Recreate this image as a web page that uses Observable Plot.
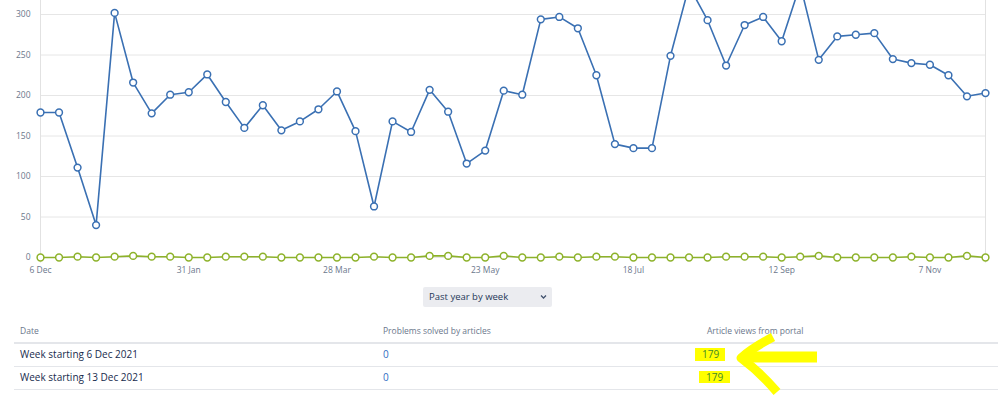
<!DOCTYPE html>
<html>
<head>
<meta charset="utf-8">
<script src="https://cdn.jsdelivr.net/npm/d3@7"></script>
<script src="https://cdn.jsdelivr.net/npm/@observablehq/plot@0.6"></script>
<style>
  html, body { margin: 0; padding: 0; background: #fff; }
  body { font-family: "Open Sans", "Noto Sans", sans-serif; }
  #wrap { position: relative; width: 998px; height: 397px; overflow: hidden; background: #fff; }
  #chart { position: absolute; left: 0; top: 0; }
  #chart svg { overflow: hidden; }
  .abs { position: absolute; white-space: nowrap; }
  .hdr { font-size: 8.5px; color: #6b778c; }
  .cell { font-size: 10px; color: #172b4d; }
  .link { color: #2f6cc4; }
  .line { position: absolute; left: 14px; width: 984px; background: #e4e6ea; }
  #sel { position: absolute; left: 423px; top: 287px; width: 129px; height: 20px; background: #ebecf0; border-radius: 2px; font-size: 9.5px; color: #253858; }
</style>
</head>
<body>
<div id="wrap">
  <div id="chart"></div>
  <div id="sel"><span class="abs" style="left:6px;top:3px;">Past year by week</span>
    <svg class="abs" style="left:117px;top:7px" width="7" height="6"><path d="M1,1.5 L3.5,4 L6,1.5" fill="none" stroke="#42526e" stroke-width="1.3"/></svg>
  </div>
  <div id="table"></div>
  <svg id="anno" class="abs" style="left:0;top:0;pointer-events:none" width="998" height="397"></svg>
</div>
<script>
const dates = ["2021-12-06","2021-12-13","2021-12-20","2021-12-27","2022-01-03","2022-01-10","2022-01-17","2022-01-24","2022-01-31","2022-02-07","2022-02-14","2022-02-21","2022-02-28","2022-03-07","2022-03-14","2022-03-21","2022-03-28","2022-04-04","2022-04-11","2022-04-18","2022-04-25","2022-05-02","2022-05-09","2022-05-16","2022-05-23","2022-05-30","2022-06-06","2022-06-13","2022-06-20","2022-06-27","2022-07-04","2022-07-11","2022-07-18","2022-07-25","2022-08-01","2022-08-08","2022-08-15","2022-08-22","2022-08-29","2022-09-05","2022-09-12","2022-09-19","2022-09-26","2022-10-03","2022-10-10","2022-10-17","2022-10-24","2022-10-31","2022-11-07","2022-11-14","2022-11-21","2022-11-28"];
const articleViews = [179,179,111,40,302,216,178,201,204,226,192,160,188,157,168,183,205,156,63,168,155,207,180,116,132,206,201,294,297,283,225,140,135,135,249,335,293,237,287,297,267,337,244,273,275,277,245,240,238,225,199,203];
const problemsSolved = [0,0,1,0,1,2,1,1,0,0,1,1,1,0,0,0,0,0,1,0,0,2,2,0,0,2,0,0,1,0,1,1,0,0,0,0,0,1,1,1,0,1,2,0,0,0,0,1,0,0,2,0];
const xTicks = ["2021-12-06","2022-01-31","2022-03-28","2022-05-23","2022-07-18","2022-09-12","2022-11-07"];
const yTicks = [0,50,100,150,200,250,300];
const tableHeaders = ["Date","Problems solved by articles","Article views from portal"];

const parse = d3.utcParse("%Y-%m-%d");
const views = dates.map((d,i) => ({date: parse(d), value: articleViews[i]}));
const solved = dates.map((d,i) => ({date: parse(d), value: problemsSolved[i]}));
const blue = "#3a70b3", green = "#8db22a";
const fmtTick = d3.utcFormat("%-d %b");

const chart = Plot.plot({
  width: 998, height: 280,
  marginLeft: 40, marginRight: 13, marginTop: 0, marginBottom: 23,
  style: {fontFamily: "'Open Sans', 'Noto Sans', sans-serif", fontSize: "8.5px", color: "#6b778c", background: "transparent"},
  x: {type: "utc", domain: [parse(dates[0]), parse(dates[dates.length-1])], ticks: xTicks.map(parse), tickFormat: fmtTick, tickSize: 0, tickPadding: 9, label: null},
  y: {domain: [0, 317.3], ticks: yTicks, tickSize: 0, tickPadding: 10, label: null},
  marks: [
    Plot.ruleY(yTicks, {stroke: "#e6e6e6", strokeWidth: 1}),
    Plot.ruleX([parse(dates[0]), parse(dates[dates.length-1])], {stroke: "#e2e2e2", y1: -7, y2: 317.3}),
    Plot.line(solved, {x: "date", y: "value", stroke: green, strokeWidth: 1.6}),
    Plot.dot(solved, {x: "date", y: "value", r: 3.4, fill: "white", stroke: green, strokeWidth: 1.5}),
    Plot.line(views, {x: "date", y: "value", stroke: blue, strokeWidth: 1.6}),
    Plot.dot(views, {x: "date", y: "value", r: 3.4, fill: "white", stroke: blue, strokeWidth: 1.5})
  ]
});
document.getElementById("chart").appendChild(chart);

// Table
const tbl = document.getElementById("table");
const colX = [20, 383, 707];
function add(html, cls, x, y) {
  const el = document.createElement("div");
  el.className = "abs " + cls;
  el.style.left = x + "px"; el.style.top = y + "px";
  el.textContent = html;
  tbl.appendChild(el);
  return el;
}
tableHeaders.forEach((h,i) => add(h, "hdr", colX[i], 325));
function hline(y, h) {
  const el = document.createElement("div");
  el.className = "line"; el.style.top = y + "px"; el.style.height = h + "px";
  tbl.appendChild(el);
}
hline(342, 2);
const fmtRow = d3.utcFormat("%-d %b %Y");
[0,1].forEach(i => {
  const y = 347 + i * 23;
  add("Week starting " + fmtRow(parse(dates[i])), "cell", colX[0], y);
  add(String(problemsSolved[i]), "cell link", colX[1], y);
  hline(366 + i * 23, 1);
});

// Yellow highlighter annotation
const anno = d3.select("#anno");
const Y = "#ffff00";
anno.append("rect").attr("x", 695).attr("y", 348).attr("width", 30).attr("height", 13).attr("fill", Y);
anno.append("rect").attr("x", 699).attr("y", 371).attr("width", 31).attr("height", 12).attr("fill", Y);
anno.append("path").attr("d", "M742,357 L817,357").attr("stroke", Y).attr("stroke-width", 11).attr("fill", "none");
anno.append("path").attr("d", "M773,337 Q752,348 741,358 Q760,372 777,392").attr("stroke", Y).attr("stroke-width", 9).attr("fill", "none").attr("stroke-linejoin", "round");
[0,1].forEach(i => {
  anno.append("text").attr("x", i ? 706 : 702).attr("y", 358 + i * 23)
    .attr("font-size", 10).attr("font-family", "'Open Sans', sans-serif").attr("fill", "#3f8a2a")
    .text(articleViews[i]);
});
</script>
</body>
</html>
